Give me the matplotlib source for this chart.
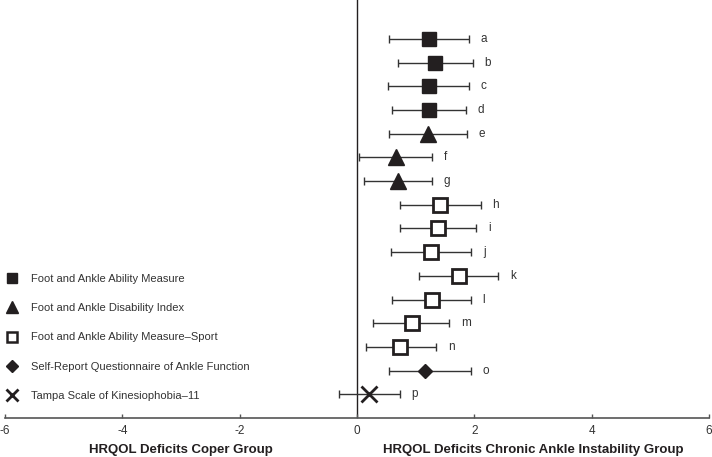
import matplotlib
matplotlib.use("Agg")
import matplotlib.pyplot as plt
from matplotlib.lines import Line2D

plt.rcParams["font.family"] = ["Liberation Sans", "DejaVu Sans"]

LETTERS = list("abcdefghijklmnop")
EFFECT = [1.23, 1.33, 1.22, 1.22, 1.21, 0.66, 0.69, 1.42,
          1.38, 1.26, 1.73, 1.27, 0.93, 0.74, 1.16, 0.21]
LOWER = [0.55, 0.69, 0.53, 0.59, 0.55, 0.04, 0.11, 0.73,
         0.73, 0.57, 1.05, 0.60, 0.28, 0.16, 0.55, -0.31]
UPPER = [1.91, 1.97, 1.91, 1.85, 1.87, 1.28, 1.27, 2.11,
         2.03, 1.95, 2.41, 1.94, 1.57, 1.35, 1.94, 0.73]
MEASURE = ["FAAM"] * 4 + ["FADI"] * 3 + ["FAAMS"] * 7 + ["SRQAF", "TSK"]

MEASURES = ["FAAM", "FADI", "FAAMS", "SRQAF", "TSK"]
MEASURE_NAMES = [
    "Foot and Ankle Ability Measure",
    "Foot and Ankle Disability Index",
    "Foot and Ankle Ability Measure\u2013Sport",
    "Self-Report Questionnaire of Ankle Function",
    "Tampa Scale of Kinesiophobia\u201311",
]
XTICKS = [-6, -4, -2, 0, 2, 4, 6]

INK = "#231f20"
STYLE = {
    "FAAM": dict(marker="s", ms=10, mfc=INK, mec=INK, mew=1),
    "FADI": dict(marker="^", ms=11, mfc=INK, mec=INK, mew=1),
    "FAAMS": dict(marker="s", ms=10, mfc="white", mec=INK, mew=2),
    "SRQAF": dict(marker="D", ms=7, mfc=INK, mec=INK, mew=1),
    "TSK": dict(marker="x", ms=11, mfc=INK, mec=INK, mew=2),
}
LEGEND_STYLE = {
    "FAAM": dict(marker="s", ms=7, mfc=INK, mec=INK, mew=1),
    "FADI": dict(marker="^", ms=8, mfc=INK, mec=INK, mew=1),
    "FAAMS": dict(marker="s", ms=7, mfc="white", mec=INK, mew=1.8),
    "SRQAF": dict(marker="D", ms=6, mfc=INK, mec=INK, mew=1),
    "TSK": dict(marker="x", ms=8, mfc=INK, mec=INK, mew=2),
}

fig = plt.figure(figsize=(7.12, 4.57), dpi=100)
ax = fig.add_axes([0.007, 0.0853, 0.989, 0.9147])

n = len(LETTERS)
for i in range(n):
    y = n - i
    ax.errorbar(EFFECT[i], y,
                xerr=[[EFFECT[i] - LOWER[i]], [UPPER[i] - EFFECT[i]]],
                fmt="none", ecolor="#333333", elinewidth=1, capsize=3, capthick=1,
                zorder=2)
    ax.plot(EFFECT[i], y, linestyle="none", zorder=3, **STYLE[MEASURE[i]])
    ax.text(UPPER[i] + 0.2, y, LETTERS[i], ha="left", va="center",
            fontsize=8.5, color="#333333")

ax.axvline(0, color=INK, lw=1, zorder=1)

ax.set_xlim(-6, 6)
ax.set_ylim(0, 17.64)
ax.set_yticks([])
ax.set_xticks(XTICKS)
ax.set_xticklabels([str(t) for t in XTICKS], fontsize=8.5, color="#333333")
ax.tick_params(axis="x", direction="in", length=3, width=1, color="#555555", pad=5)
for side in ["left", "right", "top"]:
    ax.spines[side].set_visible(False)
ax.spines["bottom"].set_color("#555555")
ax.spines["bottom"].set_linewidth(1.2)

handles = [Line2D([], [], linestyle="none", **LEGEND_STYLE[m]) for m in MEASURES]
leg = ax.legend(handles, MEASURE_NAMES, loc="lower left",
                bbox_to_anchor=(0.0, 0.04), frameon=False, fontsize=8,
                handlelength=1.2, handletextpad=1.1, labelspacing=1.75,
                borderpad=0, borderaxespad=0)
for t in leg.get_texts():
    t.set_color("#333333")

ax.text(0.25, -0.077, "HRQOL Deficits Coper Group", transform=ax.transAxes,
        ha="center", va="center", fontsize=9.5, fontweight="bold", color=INK)
ax.text(0.75, -0.077, "HRQOL Deficits Chronic Ankle Instability Group",
        transform=ax.transAxes, ha="center", va="center", fontsize=9.5,
        fontweight="bold", color=INK)

fig.savefig("out.png", dpi=100)
